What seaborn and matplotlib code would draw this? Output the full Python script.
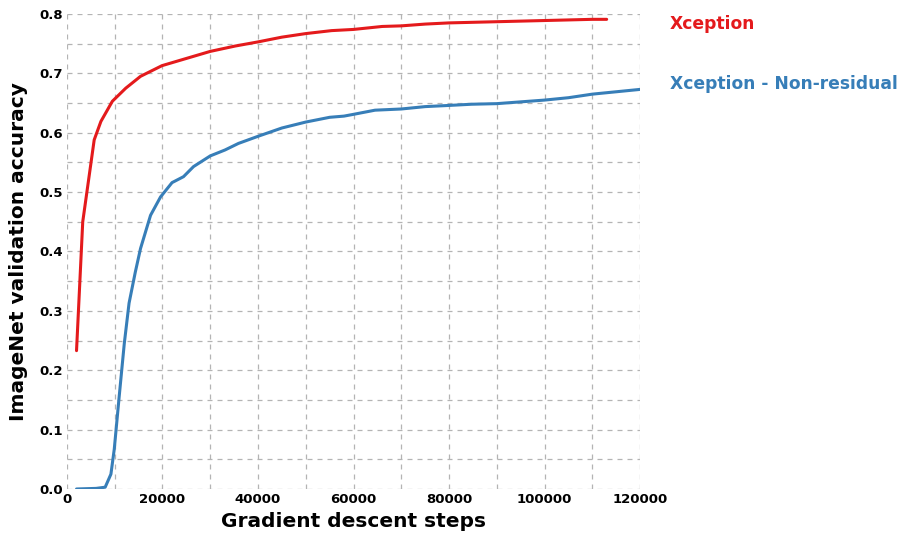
import numpy as np
import pandas as pd
import seaborn as sns
import matplotlib
matplotlib.use("Agg")
import matplotlib.pyplot as plt
from matplotlib.ticker import MultipleLocator

# values
xception_steps = [2000, 3300, 5700, 7100, 9500, 12300, 15400, 19900, 24100, 30000,
                  35200, 40000, 45000, 50000, 55400, 60000, 66000, 70000, 75000,
                  80000, 90000, 100000, 110000, 113000]
xception_acc = [0.233, 0.450, 0.588, 0.619, 0.653, 0.675, 0.695, 0.713, 0.723, 0.737,
                0.746, 0.753, 0.761, 0.767, 0.772, 0.774, 0.779, 0.780, 0.783,
                0.785, 0.787, 0.789, 0.791, 0.791]

nonres_steps = [2000, 6100, 8000, 9200, 9900, 10900, 12000, 13000, 14300, 15400,
                17500, 19600, 22000, 24400, 26500, 30000, 33100, 35900, 40000,
                45000, 50000, 55000, 58000, 60000, 64500, 70000, 75000, 80000,
                84700, 90000, 95000, 100000, 105000, 110000, 115000, 120000]
nonres_acc = [0.000, 0.001, 0.003, 0.025, 0.067, 0.153, 0.245, 0.313, 0.365, 0.405,
              0.461, 0.492, 0.516, 0.526, 0.543, 0.561, 0.571, 0.582, 0.594,
              0.608, 0.618, 0.626, 0.628, 0.631, 0.638, 0.640, 0.644, 0.646,
              0.648, 0.649, 0.652, 0.655, 0.659, 0.665, 0.669, 0.673]

labels = ["Xception", "Xception - Non-residual"]
colors = ["#e41a1c", "#377eb8"]

df = pd.concat([
    pd.DataFrame({"step": xception_steps, "acc": xception_acc, "model": labels[0]}),
    pd.DataFrame({"step": nonres_steps, "acc": nonres_acc, "model": labels[1]}),
])

sns.set_style("white")
plt.rcParams["font.family"] = ["DejaVu Sans"]
plt.rcParams["text.color"] = "black"
plt.rcParams["xtick.color"] = "black"
plt.rcParams["ytick.color"] = "black"
plt.rcParams["axes.labelcolor"] = "black"

fig = plt.figure(figsize=(8.99, 5.34), dpi=100)
ax = fig.add_axes([0.0745, 0.0843, 0.6375, 0.8895])

sns.lineplot(data=df, x="step", y="acc", hue="model", palette=colors,
             linewidth=2.2, legend=False, ax=ax, sort=False, estimator=None)

ax.set_xlim(0, 120000)
ax.set_ylim(0, 0.8)
ax.xaxis.set_major_locator(MultipleLocator(20000))
ax.xaxis.set_minor_locator(MultipleLocator(10000))
ax.yaxis.set_major_locator(MultipleLocator(0.1))
ax.yaxis.set_minor_locator(MultipleLocator(0.05))
ax.grid(True, which="both", color="#b4b4b4", linestyle=(0, (4, 4)), linewidth=0.9)
ax.set_axisbelow(True)
for s in ax.spines.values():
    s.set_visible(False)
ax.tick_params(which="both", length=0, labelsize=9.5, pad=3)
for t in ax.get_xticklabels() + ax.get_yticklabels():
    t.set_fontweight("bold")

ax.set_xlabel("Gradient descent steps", fontsize=14.5, fontweight="bold", labelpad=4)
ax.set_ylabel("ImageNet validation accuracy", fontsize=14.5, fontweight="bold", labelpad=8)

fig.text(0.745, 0.955, labels[0], color=colors[0], fontsize=12.3,
         fontweight="bold", va="center", ha="left")
fig.text(0.745, 0.843, labels[1], color=colors[1], fontsize=12.3,
         fontweight="bold", va="center", ha="left")

fig.savefig("out.png", dpi=100)
